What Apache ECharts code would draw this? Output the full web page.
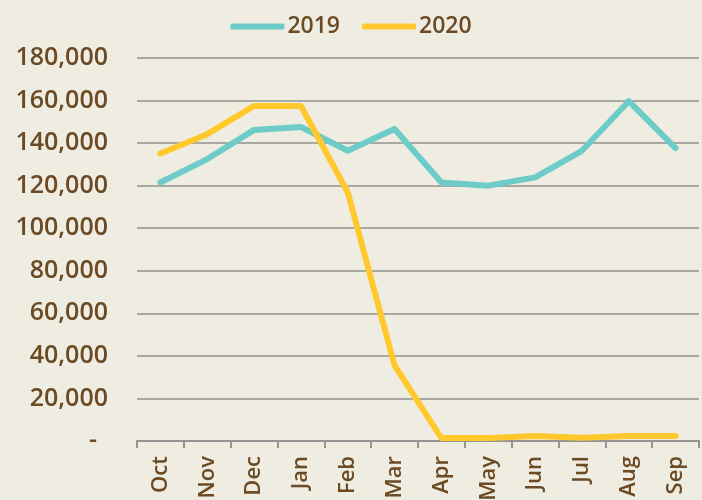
<!DOCTYPE html>
<html>
<head>
<meta charset="utf-8">
<script src="https://cdn.jsdelivr.net/npm/echarts@6/dist/echarts.min.js"></script>
<style>
html,body{margin:0;padding:0;background:#EFEDE2;}
#c{width:702px;height:500px;}
</style>
</head>
<body>
<div id="c"></div>
<script>
const categories = ['Oct','Nov','Dec','Jan','Feb','Mar','Apr','May','Jun','Jul','Aug','Sep'];
const series2019 = [121500,132500,146200,147600,136400,146600,121500,120000,123900,136400,159700,137700];
const series2020 = [135100,144200,157500,157500,116900,35500,1400,1400,2400,1500,2400,2400];
const yTicks = [0,20000,40000,60000,80000,100000,120000,140000,160000,180000];

const brown = '#6B4A24';
const font = '"Open Sans", sans-serif';
const chart = echarts.init(document.getElementById('c'));
chart.setOption({
  backgroundColor: '#EFEDE2',
  animation: false,
  legend: {
    top: 10, left: 'center',
    icon: 'roundRect',
    itemWidth: 54, itemHeight: 6, itemGap: 22,
    textStyle: {color: brown, fontFamily: font, fontSize: 23, fontWeight: 600, padding: [0,0,0,-2]},
    data: ['2019','2020']
  },
  grid: {left: 137, right: 3, top: 58, bottom: 59, containLabel: false, outerBoundsMode: 'none'},
  xAxis: {
    type: 'category',
    data: categories,
    boundaryGap: true,
    axisLine: {lineStyle: {color: '#939393', width: 2}},
    axisTick: {show: true, length: 7, lineStyle: {color: '#939393', width: 2}},
    axisLabel: {rotate: 90, margin: 15, color: brown, fontFamily: font, fontSize: 22, fontWeight: 600},
    splitLine: {show: false}
  },
  yAxis: {
    type: 'value',
    min: yTicks[0], max: yTicks[yTicks.length-1], interval: 20000,
    axisLine: {show: false},
    axisTick: {show: false},
    axisLabel: {
      margin: 29, color: brown, fontFamily: font, fontSize: 25, fontWeight: 600,
      formatter: function (v) {
        if (v === 0) return '{z|-}';
        return v.toLocaleString('en-US');
      },
      rich: {z: {color: brown, fontFamily: font, fontSize: 25, fontWeight: 600, padding: [0, 11, 0, 0]}}
    },
    splitLine: {lineStyle: {color: '#A9A8A3', width: 2}}
  },
  series: [
    {name: '2019', type: 'line', data: series2019, symbol: 'none', color: '#6DCBC8',
     lineStyle: {width: 6, color: '#6DCBC8', cap: 'round', join: 'round'}},
    {name: '2020', type: 'line', data: series2020, symbol: 'none', color: '#FFC92E',
     lineStyle: {width: 6, color: '#FFC92E', cap: 'round', join: 'round'}}
  ]
});
</script>
</body>
</html>
